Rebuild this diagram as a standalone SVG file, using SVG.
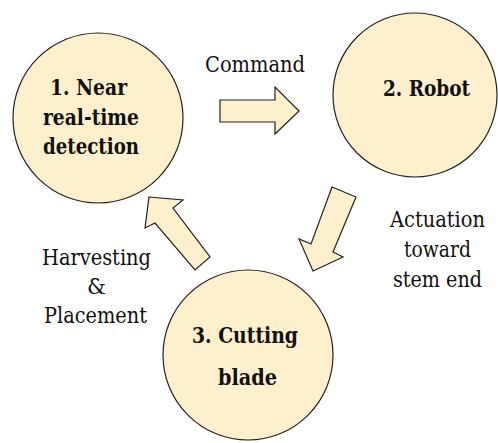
<svg xmlns="http://www.w3.org/2000/svg" width="498" height="443" viewBox="0 0 498 443">
<style>
.node{fill:#FEF0CD;stroke:#222;stroke-width:1.2}
.arr{fill:#FEF0CD;stroke:#222;stroke-width:1.2;stroke-linejoin:miter}
text{font-family:'DejaVu Serif Condensed','DejaVu Serif',serif;font-size:22px;fill:#111;text-anchor:middle}
.t{font-weight:bold}
</style>
<rect width="498" height="443" fill="#fff"/>
<g id="node1">
<circle class="node" cx="98" cy="118" r="85"/>
<text class="t" x="88.5" y="95" textLength="77" lengthAdjust="spacingAndGlyphs">1. Near</text>
<text class="t" x="91" y="125" textLength="96" lengthAdjust="spacingAndGlyphs">real-time</text>
<text class="t" x="91" y="154" textLength="96" lengthAdjust="spacingAndGlyphs">detection</text>
</g>
<g id="node2">
<circle class="node" cx="415" cy="95" r="82"/>
<text class="t" x="426.5" y="96" textLength="87" lengthAdjust="spacingAndGlyphs">2. Robot</text>
</g>
<g id="node3">
<circle class="node" cx="248" cy="355" r="85"/>
<text class="t" x="245" y="343" textLength="106" lengthAdjust="spacingAndGlyphs">3. Cutting</text>
<text class="t" x="247.5" y="385" textLength="59" lengthAdjust="spacingAndGlyphs">blade</text>
</g>
<g id="connectors">
<polygon class="arr" points="220,100 275,100 275,87 299,111 275,134 275,122 220,122"/>
<polygon class="arr" points="332,187 356,197 333,252 343,257 313,271 299,239 311,244"/>
<polygon class="arr" points="149,197 183,200 173,208 210,257 195,270 155,223 145,228"/>
<text x="255" y="72" textLength="100" lengthAdjust="spacingAndGlyphs">Command</text>
<text x="437.5" y="227" textLength="95" lengthAdjust="spacingAndGlyphs">Actuation</text>
<text x="437.5" y="257" textLength="67" lengthAdjust="spacingAndGlyphs">toward</text>
<text x="437.5" y="287" textLength="89" lengthAdjust="spacingAndGlyphs">stem end</text>
<text x="96.5" y="265" textLength="109" lengthAdjust="spacingAndGlyphs">Harvesting</text>
<text x="96.5" y="294" textLength="19" lengthAdjust="spacingAndGlyphs">&amp;</text>
<text x="95.5" y="323" textLength="103" lengthAdjust="spacingAndGlyphs">Placement</text>
</g>
</svg>
